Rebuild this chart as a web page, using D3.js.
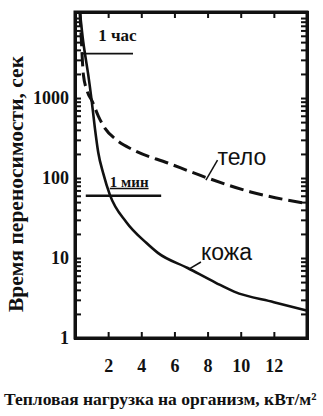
<!DOCTYPE html>
<html>
<head>
<meta charset="utf-8">
<script src="https://cdn.jsdelivr.net/npm/d3@7"></script>
<style>
  html, body { margin: 0; padding: 0; background: #fff; }
  #wrap { position: relative; width: 323px; height: 416px; }
  #frame {
    position: absolute; box-sizing: border-box;
    left: 73.5px; top: 10.5px; width: 235px; height: 329px;
    border: 3px solid #111;
  }
  svg { display: block; position: absolute; left: 0; top: 0; }
</style>
</head>
<body>
<div id="wrap">
  <div id="frame"></div>
  <svg id="chart" width="323" height="416"></svg>
</div>
<script>
// Heat load on the body (kW/m²) vs. tolerance time (s), log time axis
const loadTicks = [2, 4, 6, 8, 10, 12];
const timeTicks = [1, 10, 100, 1000];

// skin ("кожа") — solid curve
const skinLoad = [0.3, 0.5, 0.6, 0.8, 1.0, 1.2, 1.4, 1.7, 2.1, 3.1, 4.3, 5.0, 6.8, 8.5, 9.6, 12.0, 14.0];
const skinTime = [11800, 5000, 3600, 1950, 950, 420, 210, 115, 62, 28, 15.5, 11.6, 7.5, 4.9, 3.8, 2.8, 2.2];

// body ("тело") — dashed curve
const bodyLoad = [0.3, 0.4, 0.5, 0.75, 1.05, 1.4, 1.8, 2.5, 3.5, 5.6, 8.0, 10.6, 14.0];
const bodyTime = [11800, 4500, 2000, 1200, 900, 600, 420, 300, 225, 154, 100, 67, 48];

// reference levels
const refLabels = ["1 час", "1 мин"];
const refTimes = [3600, 60];
const refFrom = [0.4, 0.65];
const refTo = [3.5, 5.2];

const svg = d3.select("#chart");
const L = 75, R = 307, T = 12, B = 338;

const x = d3.scaleLinear().domain([0, 14]).range([L, R]);
const y = d3.scaleLog().domain([1, 11900]).range([B, T]);

const serif = "'Liberation Serif', 'Times New Roman', serif";
const sans = "'Liberation Sans', Arial, sans-serif";
const ink = "#111";

// all log ticks: 1..9 per decade
const logTicks = [];
for (let d = 1; d <= 10000; d *= 10)
  for (let m = 1; m <= 9; m++) if (d * m <= 11900) logTicks.push(d * m);

const fmt = v => timeTicks.includes(v) ? String(v) : "";

// plot frame
svg.append("rect")
  .attr("x", L).attr("y", T).attr("width", R - L).attr("height", B - T)
  .attr("fill", "none").attr("stroke", ink).attr("stroke-width", 3);

// curves
const line = d3.line().x(d => x(d[0])).y(d => y(d[1])).curve(d3.curveMonotoneX);

svg.append("path").datum(d3.zip(skinLoad, skinTime))
  .attr("d", line).attr("fill", "none").attr("stroke", ink).attr("stroke-width", 2.6);

svg.append("path").datum(d3.zip(bodyLoad, bodyTime))
  .attr("d", line).attr("fill", "none").attr("stroke", ink).attr("stroke-width", 3)
  .attr("stroke-dasharray", "14,6");

function styleAxis(g) {
  g.select(".domain").remove();
  g.selectAll(".tick line").attr("stroke", ink).attr("stroke-width", 2);
  g.selectAll(".tick text").attr("fill", ink)
    .attr("font-family", serif).attr("font-weight", "bold").attr("font-size", 18);
}

// axes with inward ticks on all four sides
svg.append("g").attr("transform", `translate(0,${B})`)
  .call(d3.axisBottom(x).tickValues(loadTicks).tickSize(-6).tickPadding(21).tickFormat(d3.format("d")))
  .call(styleAxis);
svg.append("g").attr("transform", `translate(0,${T})`)
  .call(d3.axisTop(x).tickValues(loadTicks).tickSize(-6).tickFormat(""))
  .call(styleAxis);
svg.append("g").attr("transform", `translate(${L},0)`)
  .call(d3.axisLeft(y).tickValues(logTicks).tickSize(-6).tickPadding(6).tickFormat(fmt))
  .call(styleAxis);
svg.append("g").attr("transform", `translate(${R},0)`)
  .call(d3.axisRight(y).tickValues(logTicks).tickSize(-6).tickFormat(""))
  .call(styleAxis);

// reference levels: 1 hour and 1 minute
refTimes.forEach((t, i) => {
  svg.append("line")
    .attr("x1", x(refFrom[i])).attr("x2", x(refTo[i]))
    .attr("y1", y(t)).attr("y2", y(t))
    .attr("stroke", ink).attr("stroke-width", i === 0 ? 1.8 : 2.4);
});
svg.append("text").attr("x", x(1.4)).attr("y", y(refTimes[0]) - 13)
  .attr("font-family", serif).attr("font-weight", "bold").attr("font-size", 17)
  .attr("fill", ink).text(refLabels[0]);
svg.append("text").attr("x", x(2.1)).attr("y", y(refTimes[1]) - 9)
  .attr("font-family", serif).attr("font-weight", "bold").attr("font-size", 15)
  .attr("fill", ink).attr("text-decoration", "underline").text(refLabels[1]);

// curve labels with leader lines
function curveLabel(text, lx, ly, fx, fy, tx, ty) {
  svg.append("text").attr("x", lx).attr("y", ly)
    .attr("font-family", sans).attr("font-size", 23).attr("fill", ink).text(text);
  svg.append("line").attr("x1", fx).attr("y1", fy).attr("x2", tx).attr("y2", ty)
    .attr("stroke", ink).attr("stroke-width", 1.5);
}
curveLabel("тело", x(8.6), y(100) - 13, x(8.6), y(100) - 18, x(7.9), y(100) + 2);
curveLabel("кожа", x(7.6), y(10) + 2, x(7.6), y(10) + 4, x(6.9), y(7.3));

// axis titles
svg.append("text")
  .attr("transform", `translate(23,184) rotate(-90)`)
  .attr("text-anchor", "middle")
  .attr("font-family", serif).attr("font-weight", "bold").attr("font-size", 21.5)
  .attr("fill", ink).text("Время переносимости, сек");

svg.append("text").attr("x", 4).attr("y", 405)
  .attr("font-family", serif).attr("font-weight", "bold").attr("font-size", 17.5)
  .attr("fill", ink).text("Тепловая нагрузка на организм, кВт/м²");
</script>
</body>
</html>
